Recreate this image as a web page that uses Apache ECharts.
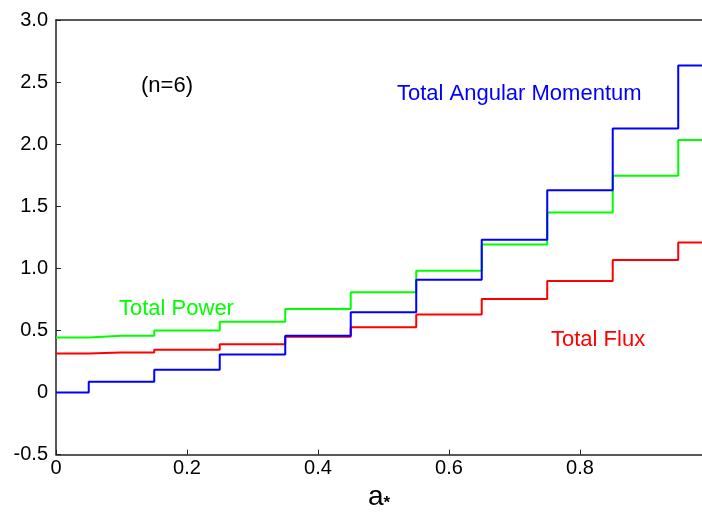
<!DOCTYPE html>
<html>
<head>
<meta charset="utf-8">
<script src="https://cdn.jsdelivr.net/npm/echarts@6/dist/echarts.min.js"></script>
<style>
html,body{margin:0;padding:0;background:#fff;}
#chart{width:702px;height:517px;}
</style>
</head>
<body>
<div id="chart"></div>
<script>
// Spin parameter samples (step centres)
var aStar = [0, 0.1, 0.2, 0.3, 0.4, 0.5, 0.6, 0.7, 0.8, 0.9, 1.0];
// Series values
var totalAngularMomentum = [0.00, 0.087, 0.184, 0.306, 0.458, 0.647, 0.909, 1.231, 1.628, 2.126, 2.634];
var totalPower = [0.444, 0.457, 0.500, 0.570, 0.672, 0.808, 0.981, 1.193, 1.449, 1.745, 2.034];
var totalFlux = [0.314, 0.322, 0.345, 0.388, 0.449, 0.525, 0.628, 0.754, 0.899, 1.068, 1.208];
var yTicks = [-0.5, 0, 0.5, 1.0, 1.5, 2.0, 2.5, 3.0];
var xTicks = [0, 0.2, 0.4, 0.6, 0.8];
var xMax = 0.9863; // visible right end of the axis

function pairs(xs, ys) { return xs.map(function (x, i) { return [x, ys[i]]; }); }
function fmt(v) { return Math.abs(v) < 1e-9 ? '0' : v.toFixed(1); }

var FONT = 'Liberation Sans, Arial, Helvetica, sans-serif';
var chart = echarts.init(document.getElementById('chart'), null, {renderer: 'canvas'});
var axisCol = '#222';
chart.setOption({
  animation: false,
  backgroundColor: '#fff',
  grid: {left: 56, top: 20, right: 0, bottom: 40.5, show: false},
  xAxis: [{
    type: 'value', min: 0, max: xMax,
    name: '{a|a}{s|*}', nameLocation: 'middle', nameGap: 17,
    nameTextStyle: {rich: {a: {fontFamily: FONT, fontSize: 28, color: '#000'}, s: {fontFamily: FONT, fontSize: 17, fontWeight: 'bold', color: '#000', padding: [12, 0, 0, 0]}}},
    axisLine: {show: true, onZero: false, lineStyle: {color: axisCol, width: 1.5}},
    axisTick: {show: true, inside: true, length: 5, lineStyle: {color: axisCol}, customValues: xTicks},
    axisLabel: {formatter: fmt, fontFamily: FONT, fontSize: 20, color: '#000', margin: 4, customValues: xTicks},
    splitLine: {show: false}
  }, {
    type: 'value', min: 0, max: xMax, position: 'top',
    axisLine: {show: true, onZero: false, lineStyle: {color: axisCol, width: 1.5}},
    axisTick: {show: false}, axisLabel: {show: false}, splitLine: {show: false}
  }],
  yAxis: {
    type: 'value', min: -0.5, max: 3.0, interval: 0.5,
    axisLine: {show: true, onZero: false, lineStyle: {color: axisCol, width: 1.5}},
    axisTick: {show: true, inside: true, length: 5, lineStyle: {color: axisCol}},
    axisLabel: {formatter: fmt, fontFamily: FONT, fontSize: 20, color: '#000', margin: 8},
    splitLine: {show: false}
  },
  series: [
    {name: 'Total Flux', type: 'line', step: 'middle', data: pairs(aStar, totalFlux), showSymbol: false, lineStyle: {color: '#ff0000', width: 2}, z: 2},
    {name: 'Total Power', type: 'line', step: 'middle', data: pairs(aStar, totalPower), showSymbol: false, lineStyle: {color: '#00ff00', width: 2}, z: 3},
    {name: 'Total Angular Momentum', type: 'line', step: 'middle', data: pairs(aStar, totalAngularMomentum), showSymbol: false, lineStyle: {color: '#0000ff', width: 2}, z: 4}
  ],
  graphic: [
    {type: 'text', left: 141, top: 75, style: {text: '(n=6)', font: '22px ' + FONT, fill: '#000'}},
    {type: 'text', left: 397, top: 83, style: {text: 'Total Angular Momentum', font: '22px ' + FONT, fill: '#0000ff'}},
    {type: 'text', left: 119, top: 298, style: {text: 'Total Power', font: '22px ' + FONT, fill: '#00ff00'}},
    {type: 'text', left: 551, top: 329, style: {text: 'Total Flux', font: '22px ' + FONT, fill: '#ff0000'}}
  ]
});
</script>
</body>
</html>
